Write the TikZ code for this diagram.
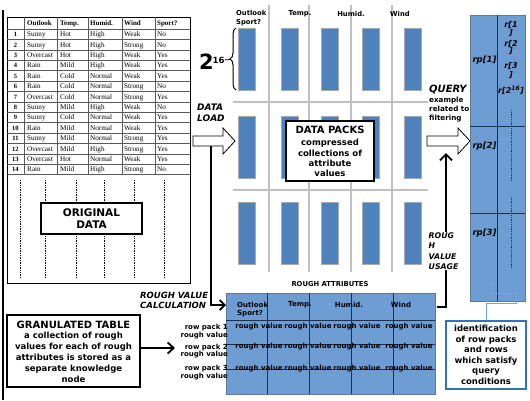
\documentclass[tikz,border=0pt]{standalone}
\usepackage{fontspec}
\setmainfont{Liberation Serif}
\newfontfamily\dv{DejaVu Sans}[BoldFont={DejaVu Sans Bold},ItalicFont={DejaVu Sans Oblique},BoldItalicFont={DejaVu Sans Bold Oblique}]
\usetikzlibrary{arrows.meta,decorations.pathreplacing}
\newcommand\myfs[2]{\fontsize{#1}{#2}\selectfont}
\definecolor{barblue}{RGB}{79,129,189}
\definecolor{baredge}{RGB}{170,170,170}
\definecolor{tblue}{RGB}{110,157,212}
\definecolor{tedge}{RGB}{95,120,150}
\definecolor{tline}{RGB}{30,48,75}
\definecolor{gridgray}{RGB}{192,192,192}
\definecolor{idblue}{RGB}{46,117,182}
\definecolor{lblue}{RGB}{115,162,218}
\tikzset{
  sb/.style args={#1/#2}{font=\dv\bfseries\myfs{#1}{#2},inner sep=0pt,align=center},
  sbi/.style args={#1/#2}{font=\dv\bfseries\itshape\myfs{#1}{#2},inner sep=0pt,align=left},
  tcell/.style={font=\myfs{7.2}{8},inner sep=0pt,anchor=base west},
  thead/.style={font=\bfseries\myfs{7}{8},inner sep=0pt,anchor=base west},
  tidx/.style={font=\bfseries\myfs{6.5}{8},inner sep=0pt,anchor=base},
  tl/.style={draw=black!65,line width=0.5pt},
  bar/.style={fill=barblue,draw=baredge,line width=0.8pt},
  ggrid/.style={draw=gridgray,line width=1.2pt},
  heavy/.style={line width=1.8pt},
  hollow/.style={draw,fill=white,line width=0.8pt},
  rline/.style={draw=tline,line width=0.7pt},
  bluec/.style={draw=lblue,line width=0.9pt,-{Straight Barb[length=3pt,width=6pt]}},
}
\begin{document}
\begin{tikzpicture}[x=1pt,y=-1pt]
\useasboundingbox (0,0) rectangle (530,400);

% left rule
\coordinate (lt) at (3,10); \coordinate (lb) at (3,400);
\draw[line width=1.8pt] (lt) -- (lb);

% ---------- original data ----------
\node[draw,line width=0.8pt,minimum width=183pt,minimum height=266pt,inner sep=0pt] (od) at (98.5,150) {};
\foreach \k in {0,...,14}{\draw[tl] (7,{29+10.4*\k}) -- (190,{29+10.4*\k});}
\foreach \xx in {24,57,88,122,155}{\draw[tl] (\xx,17) -- (\xx,174.6);}
\node[thead] (h1) at (27,25.5) {Outlook};
\node[thead] (h2) at (60,25.5) {Temp.};
\node[thead] (h3) at (90,25.5) {Humid.};
\node[thead] (h4) at (124,25.5) {Wind};
\node[thead] (h5) at (157,25.5) {Sport?};
\foreach \ii/\ca/\cb/\cc/\cd/\ce in {
 1/Sunny/Hot/High/Weak/No, 2/Sunny/Hot/High/Strong/No, 3/Overcast/Hot/High/Weak/Yes,
 4/Rain/Mild/High/Weak/Yes, 5/Rain/Cold/Normal/Weak/Yes, 6/Rain/Cold/Normal/Strong/No,
 7/Overcast/Cold/Normal/Strong/Yes, 8/Sunny/Mild/High/Weak/No, 9/Sunny/Cold/Normal/Weak/Yes,
 10/Rain/Mild/Normal/Weak/Yes, 11/Sunny/Mild/Normal/Strong/Yes, 12/Overcast/Mild/High/Strong/Yes,
 13/Overcast/Hot/Normal/Weak/Yes, 14/Rain/Mild/High/Strong/No}{
  \pgfmathsetmacro\by{29+10.4*\ii-5.2+2.4}
  \node[tidx] (ti\ii) at (15.5,\by) {\ii};
  \node[tcell] (ta\ii) at (27,\by) {\ca};
  \node[tcell] (tb\ii) at (60,\by) {\cb};
  \node[tcell] (tc\ii) at (90,\by) {\cc};
  \node[tcell] (td\ii) at (124,\by) {\cd};
  \node[tcell] (te\ii) at (157,\by) {\ce};
}
\foreach \xx in {20,45,76,104,134,164}{\draw[densely dotted,line width=0.7pt] (\xx,180) -- (\xx,278);}
\node[draw,fill=white,line width=1.2pt,minimum width=101pt,minimum height=31pt,sb=10.5/11.5] (orig) at (91.5,218.5) {ORIGINAL\\DATA};

% ---------- data packs grid ----------
\foreach \xx in {269,309,351,392}{\draw[ggrid] (\xx,5) -- (\xx,272);}
\foreach \yy in {102,190}{\draw[ggrid] (233,\yy) -- (428,\yy);}
\foreach \bx in {238,281,321,362,404}{
  \foreach \byy in {28,116,202}{\draw[bar] (\bx,\byy) rectangle ++(17,62);}
}
\node[sb=6.8/8.5,align=left,anchor=west] (c1) at (236,18) {Outlook\\Sport?};
\node[sb=6.8/8.5] (c2) at (300,14) {Temp.};
\node[sb=6.8/8.5] (c3) at (351,14) {Humid.};
\node[sb=6.8/8.5] (c4) at (400,14) {Wind};

% 2^16 and brace
\node[sb=21/21,anchor=base west] (two) at (199,69) {2};
\node[sb=8.5/8.5,anchor=base west] (sixteen) at (212.5,63) {16};
\coordinate (btip) at (230,59.5);
\draw[line width=1pt,decorate,decoration={brace,amplitude=6pt}] (236,90) -- (236,28);
\draw[line width=0.8pt] (sixteen.east) -- (btip);

% data load
\node[sbi=9/11,anchor=north west] (dl) at (197,103.5) {DATA\\LOAD};
\draw[hollow] (193,136) -- (223,136) -- (223,128) -- (235,141) -- (223,154) -- (223,146) -- (193,146) -- cycle;

% data packs box
\node[draw,fill=white,line width=1.3pt,minimum width=88pt,minimum height=60pt,inner sep=0pt] (dp) at (330,151) {};
\node[sb=10/12] (dpt) at (330,130) {DATA PACKS};
\node[sb=8.5/10.3] (dpb) at (330,158) {compressed\\collections of\\attribute\\values};

% query
\node[sbi=10/12,anchor=west] (qt) at (429,90) {QUERY};
\node[sb=7.2/9,align=left,anchor=north west] (qx) at (429,96.5) {example\\related to\\filtering};
\draw[hollow] (427,136) -- (458,136) -- (458,128) -- (470,141) -- (458,154) -- (458,146) -- (427,146) -- cycle;

% rp box
\node[draw=tedge,fill=tblue,line width=0.8pt,minimum width=55pt,minimum height=286pt,inner sep=0pt] (rp) at (497.5,158) {};
\draw[rline] (rp.north) -- (rp.south);
\draw[rline] (470,126) -- (525,126);
\draw[rline] (470,213) -- (525,213);
\draw[densely dotted,line width=0.8pt,black!80] (511,110) -- (511,182);
\draw[densely dotted,line width=0.8pt,black!80] (511,197) -- (511,268);
\node[sbi=8.5/10] (rp1) at (484.5,60) {rp[1]};
\node[sbi=8.5/10] (rp2) at (484.5,146) {rp[2]};
\node[sbi=8.5/10] (rp3) at (484.5,233) {rp[3]};
\node[sbi=8/9] (r1) at (511,25) {r[1};
\node[sbi=8/9] (r1b) at (511,32.5) {]};
\node[sbi=8/9] (r2) at (511,43.5) {r[2};
\node[sbi=8/9] (r2b) at (511,51) {]};
\node[sbi=8/9] (r3) at (511,66) {r[3};
\node[sbi=8/9] (r3b) at (511,74.5) {]};
\node[sbi=8/9] (r4) at (511,90) {r[2\textsuperscript{16}]};

% rough attributes table
\node[sb=6.8/8] (ra) at (330,284) {ROUGH ATTRIBUTES};
\node[draw=tedge,fill=tblue,line width=0.8pt,minimum width=209pt,minimum height=101pt,inner sep=0pt] (rt) at (330.5,343.5) {};
\foreach \xx in {267,309,351,393}{\draw[rline] (\xx,293) -- (\xx,394);}
\foreach \yy in {320,344,369}{\draw[rline] (226,\yy) -- (435,\yy);}
\node[sb=7/8.5,align=left,anchor=west] (rh1) at (237,309.5) {Outlook\\Sport?};
\node[sb=7/8.5] (rh2) at (300,305) {Temp.};
\node[sb=7/8.5] (rh3) at (349,305) {Humid.};
\node[sb=7/8.5] (rh4) at (401,305) {Wind};
\foreach \cx [count=\ci] in {259,308,357,409}{
  \foreach \cy [count=\cj] in {327,347,369}{
    \node[sb=7/8] (rv\ci\cj) at (\cx,\cy) {rough value};
  }
}
\node[sb=7/7.8,align=right,anchor=east] (rp1l) at (228,331.5) {row pack 1\\rough value};
\node[sb=7/7.8,align=right,anchor=east] (rp2l) at (228,351) {row pack 2\\rough value};
\node[sb=7/7.8,align=right,anchor=east] (rp3l) at (228,372.5) {row pack 3\\rough value};

% rough value calculation
\coordinate (dlfoot) at (211,146);
\coordinate (rvc) at (226,305);
\draw[heavy,-{Straight Barb[length=5pt,width=10pt]}] (dlfoot) |- (rvc);
\node[sbi=8.5/10,anchor=west] (rvct) at (140,300) {ROUGH VALUE\\CALCULATION};

% rough value usage
\coordinate (ruend) at (437,307);
\coordinate (rutip) at (446,153);
\draw[heavy,-{Straight Barb[length=6pt,width=12pt]}] (ruend) -| (rutip);
\node[sbi=7.8/10.3,anchor=north west,fill=white,inner sep=0.5pt] (rut) at (428,232) {ROUG\\H\\VALUE\\USAGE};

% granulated table
\node[draw,fill=white,line width=1.2pt,minimum width=133pt,minimum height=72pt,inner sep=0pt] (gt) at (73.5,351) {};
\node[sb=10/12] (gtt) at (73.5,325) {GRANULATED TABLE};
\node[sb=8.5/11] (gtb) at (73.5,357.5) {a collection of rough\\values for each of rough\\attributes is stored as a\\separate knowledge\\node};
\coordinate (gtend) at (175,348);
\draw[heavy,-{Straight Barb[length=6pt,width=11pt]}] ([yshift=3pt]gt.east) -- (gtend);

% identification
\node[draw=idblue,fill=white,line width=1.2pt,minimum width=80pt,minimum height=68pt,sb=8.5/10.5] (id) at (486,355) {identification\\of row packs\\and rows\\which satisfy\\query\\conditions};
\coordinate (ba) at (491,282); \coordinate (bb) at (516,282);
\draw[bluec] (id.north) -- (486,303) -- (516,303) -- (bb);
\draw[bluec] (516,293) -- (491,293) -- (ba);
\end{tikzpicture}
\end{document}
